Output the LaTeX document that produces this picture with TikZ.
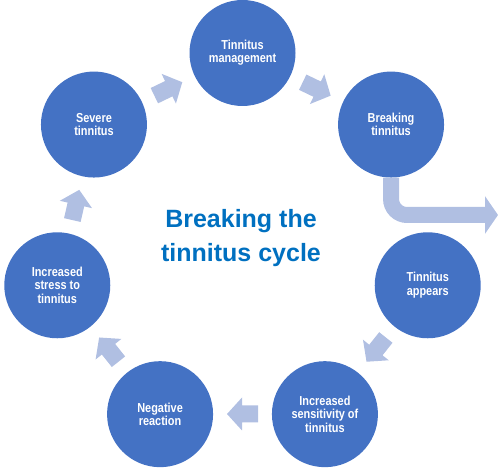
\documentclass[tikz,border=0pt]{standalone}
\usepackage{fontspec}
\setmainfont{Liberation Sans}
\newfontfamily\circfont[FakeStretch=0.84]{Liberation Sans}
\usetikzlibrary{arrows.meta,calc}
\definecolor{circblue}{HTML}{4472C4}
\definecolor{arrblue}{HTML}{B0BFE2}
\definecolor{titleblue}{HTML}{0070C0}
\tikzset{
  stage/.style={circle, fill=circblue, minimum size=106pt, inner sep=0pt,
    text=white, align=center, font=\circfont\bfseries\fontsize{13}{13.3}\selectfont},
  blockarrow/.style={fill=arrblue, draw=none},
  bentarrow/.style={draw=arrblue, line width=16pt, line cap=butt, rounded corners=16pt,
    -{Triangle[length=13pt,width=37pt]}},
  titletext/.style={text=titleblue, align=center,
    font=\bfseries\fontsize{25}{34}\selectfont}
}
\begin{document}
\begin{tikzpicture}[x=1pt,y=1pt]
\useasboundingbox (0,0) rectangle (500,473);
\coordinate (C) at (242.5,230);
\foreach \name/\txt [count=\k from 0] in {
  mgmt/{Tinnitus\\management},
  brk/{Breaking\\tinnitus},
  app/{Tinnitus\\appears},
  sens/{Increased\\sensitivity of\\tinnitus},
  neg/{Negative\\reaction},
  stress/{Increased\\stress to\\tinnitus},
  sev/{Severe\\tinnitus}}{
  \node[stage] (\name) at ($(C)+({90-\k*360/7}:190)$) {\txt};
}
\foreach \k in {0,2,3,4,5,6}{
  \pgfmathsetmacro{\ang}{90-(\k+0.5)*360/7}
  \coordinate (arr\k) at ($(C)+(\ang:171)$);
  \fill[blockarrow, shift={(arr\k)}, rotate=\ang-90]
    (-15.5,-8.5) -- (0.5,-8.5) -- (0.5,-16.5) -- (15.5,0) -- (0.5,16.5)
    -- (0.5,8.5) -- (-15.5,8.5) -- cycle;
}
\coordinate (exit) at (498,258);
\draw[bentarrow] (brk.south) |- (exit);
\node[titletext] (title) at (241,234.5) {Breaking the\\tinnitus cycle};
\end{tikzpicture}
\end{document}
